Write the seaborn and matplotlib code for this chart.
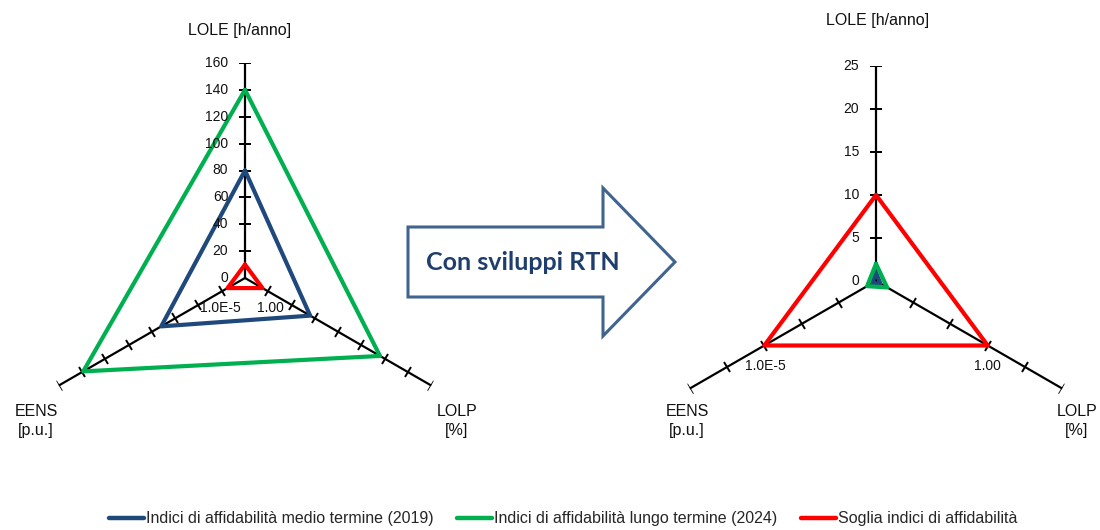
import numpy as np
import pandas as pd
import matplotlib
matplotlib.use("Agg")
import matplotlib.pyplot as plt
import seaborn as sns
from matplotlib.markers import MarkerStyle
from matplotlib.transforms import Affine2D
from matplotlib.patches import FancyArrow
from matplotlib.lines import Line2D

sns.set_theme(style="white")
plt.rcParams['font.family'] = ['Liberation Sans', 'DejaVu Sans']

# Radar axes (same order in both charts)
assi = ["LOLE", "EENS", "LOLP"]
angoli_deg = [90, 210, 330]

serie = ["Indici di affidabilità medio termine (2019)",
         "Indici di affidabilità lungo termine (2024)",
         "Soglia indici di affidabilità"]
colori = ["#1F497D", "#00B050", "#FF0000"]

# left chart: current situation
medio_2019_sx = [80, 72, 56]
lungo_2024_sx = [140, 139, 116]
soglia_sx = [10, 15, 15]
tick_sx = [0, 20, 40, 60, 80, 100, 120, 140, 160]

# right chart: with RTN developments
medio_2019_dx = [1.0, 0.5, 0.6]
lungo_2024_dx = [2.0, 1.2, 1.5]
soglia_dx = [10, 15, 15]
tick_dx = [0, 5, 10, 15, 20, 25]

soglia_etichette = ["1.0E-5", "1.00"]


def to_long(valori):
    righe = []
    for nome, vals in zip(serie, valori):
        th = list(np.deg2rad(angoli_deg)) + [np.deg2rad(angoli_deg[0]) + 2 * np.pi]
        rr = list(vals) + [vals[0]]
        for t, r in zip(th, rr):
            righe.append({"serie": nome, "theta": t, "r": r})
    return pd.DataFrame(righe)


def radar(ax, valori, ticks, lab_off):
    rmax = ticks[-1]
    ax.patch.set_visible(False)
    ax.grid(False)
    ax.spines['polar'].set_visible(False)
    # spokes with perpendicular tick marks
    for a in angoli_deg:
        th = np.deg2rad(a)
        ax.plot([th, th], [0, rmax], color="black", lw=1.6, zorder=2)
        m = MarkerStyle('_', transform=Affine2D().rotate_deg(a + 90))
        ax.plot([th] * (len(ticks) - 1), ticks[1:], ls='none', marker=m,
                ms=8, mew=1.4, color="black", zorder=2)
    df = to_long(valori)
    sns.lineplot(data=df, x="theta", y="r", hue="serie", palette=colori,
                 hue_order=serie, sort=False, estimator=None, lw=3.0,
                 legend=False, ax=ax, zorder=3)
    ax.set_ylim(0, rmax)
    ax.set_xticks([])
    ax.set_yticks([])
    ax.set_xlabel("")
    ax.set_ylabel("")
    for t in ticks:
        ax.annotate(str(t), xy=(np.pi / 2, t), xytext=(-12, 0),
                    textcoords="offset points", ha="right", va="center",
                    fontsize=10, color="#111111")
    soglia = valori[2]
    for i, (lab, off) in enumerate(zip(soglia_etichette, lab_off)):
        ax.annotate(lab, xy=(np.deg2rad(angoli_deg[i + 1]), soglia[i + 1]),
                    xytext=off, textcoords="offset points", ha="center",
                    va="center", fontsize=10, color="#111111")


fig = plt.figure(figsize=(11, 5.3), dpi=100)

ax1 = fig.add_axes([30 / 1100, 37 / 530, 430 / 1100, 430 / 530], projection="polar")
radar(ax1, [medio_2019_sx, lungo_2024_sx, soglia_sx], tick_sx, [(-5, -14), (6, -14)])

ax2 = fig.add_axes([661 / 1100, 34 / 530, 430 / 1100, 430 / 530], projection="polar")
radar(ax2, [medio_2019_dx, lungo_2024_dx, soglia_dx], tick_dx, [(1, -15), (0, -15)])

# axis titles
def ftext(x, y, s):
    fig.text(x / 1100, 1 - y / 530, s, ha="center", va="center",
             fontsize=11.5, color="#111111", linespacing=1.35)

ftext(240, 30, "LOLE [h/anno]")
ftext(36, 421, "EENS\n[p.u.]")
ftext(457, 421, "LOLP\n[%]")
ftext(878, 21, "LOLE [h/anno]")
ftext(687, 421, "EENS\n[p.u.]")
ftext(1077, 421, "LOLP\n[%]")

# central arrow
freccia = FancyArrow(408 / 1100, 1 - 262 / 530, 267 / 1100, 0,
                     width=70 / 530, head_width=148 / 530, head_length=72 / 1100,
                     length_includes_head=True, transform=fig.transFigure,
                     facecolor="white", edgecolor="#41648F", lw=2.2)
fig.patches.append(freccia)
fig.text(523 / 1100, 1 - 262 / 530, "Con sviluppi RTN", ha="center", va="center",
         fontsize=18, fontweight="bold", color="#1F3E6E",
         family=["Lato", "DejaVu Sans"])

# legend
handles = [Line2D([], [], color=c, lw=3.2) for c in colori]
fig.legend(handles, serie, loc="center", bbox_to_anchor=(0.512, 0.021), ncol=3,
           frameon=False, handlelength=2.2, handletextpad=0.1, columnspacing=1.5,
           prop={"size": 11.5})

fig.savefig("out.png", dpi=100)
